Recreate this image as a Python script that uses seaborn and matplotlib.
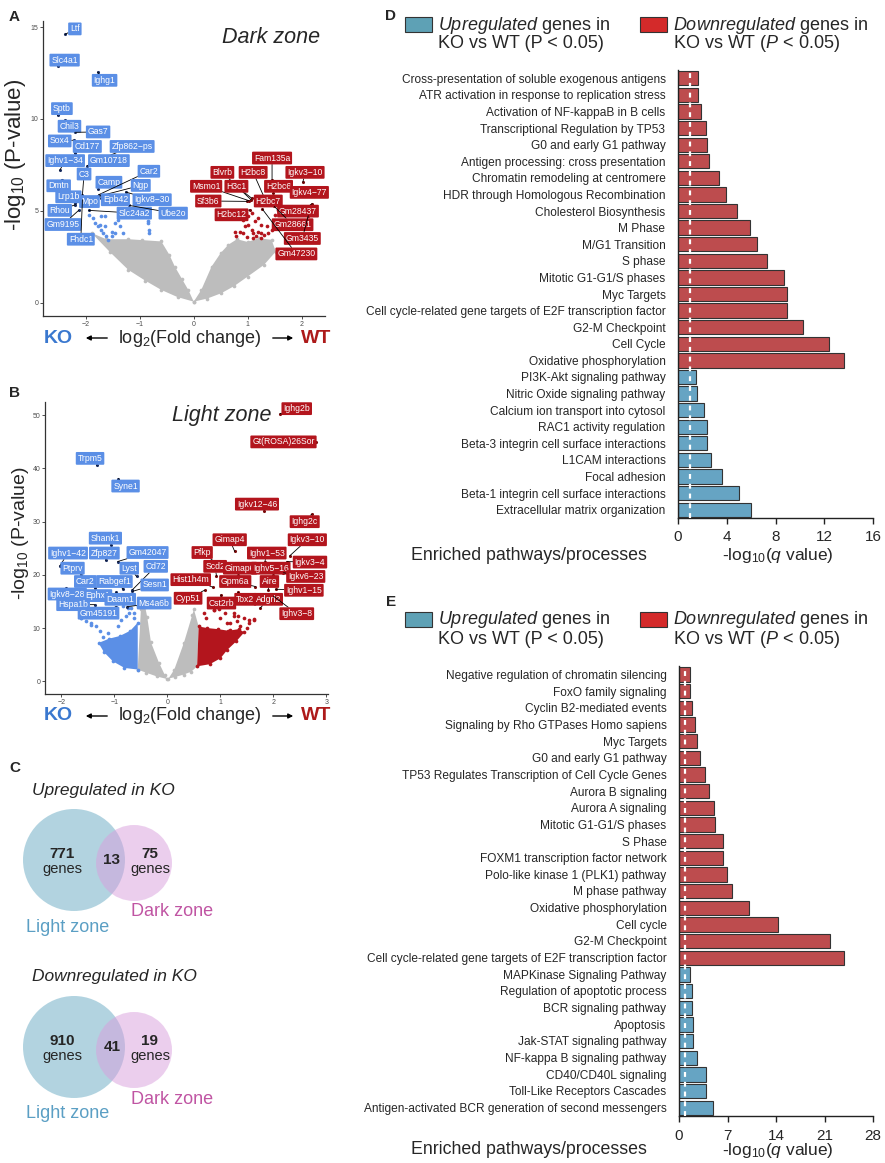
import numpy as np
import pandas as pd
import matplotlib
matplotlib.use("Agg")
import matplotlib.pyplot as plt
from matplotlib.patches import Circle, Rectangle, FancyArrowPatch
import seaborn as sns

# ---------------- panel A : dark zone volcano ----------------
a_genes = ["Ltf", "Slc4a1", "Ighg1", "Sptb", "Chil3", "Gas7", "Sox4", "Cd177", "Zfp862-ps", "Gm10718",
           "Ighv1-34", "C3", "Dmtn", "Camp", "Car2", "Ngp", "Lrp1b", "Mpo", "Epb42", "Igkv8-30",
           "Rhou", "Slc24a2", "Ube2o", "Gm9195", "Fhdc1",
           "Fam135a", "Blvrb", "H2bc8", "Igkv3-10", "Msmo1", "H3c1", "H2bc6", "Igkv4-77", "Sf3b6",
           "H2bc7", "Gm28437", "H2bc12", "Gm28661", "Gm3435", "Gm47230"]
a_fc = [-2.38, -2.52, -1.78, -2.52, -2.39, -2.20, -2.22, -2.20, -1.94, -1.97,
        -2.48, -2.06, -2.44, -1.77, -1.76, -1.77, -2.19, -2.00, -1.71, -1.26,
        -2.19, -1.94, -1.19, -2.13, -2.06,
        1.45, 1.06, 1.31, 2.02, 1.02, 1.07, 1.47, 2.23, 0.99,
        1.13, 2.19, 1.04, 1.49, 2.12, 1.27]
a_p = [14.6, 12.87, 12.55, 10.2, 9.93, 9.27, 8.84, 8.15, 7.56, 7.45,
       7.2, 5.87, 6.69, 6.18, 5.87, 5.78, 5.42, 5.3, 5.72, 6.02,
       5.33, 5.02, 5.29, 5.02, 5.6,
       6.69, 5.6, 5.69, 6.55, 5.55, 5.69, 5.96, 5.78, 5.51,
       5.6, 5.38, 5.05, 5.24, 4.73, 5.09]
a_lab_fc = [-2.20, -2.39, -1.65, -2.44, -2.30, -1.77, -2.48, -1.97, -1.14, -1.57,
            -2.38, -2.03, -2.50, -1.57, -0.83, -0.98, -2.32, -1.93, -1.45, -0.77,
            -2.48, -1.10, -0.38, -2.42, -2.09,
            1.45, 0.53, 1.10, 2.06, 0.23, 0.79, 1.57, 2.14, 0.27,
            1.38, 1.93, 0.70, 1.83, 2.01, 1.90]
a_lab_p = [14.9, 13.2, 12.1, 10.56, 9.6, 9.29, 8.8, 8.5, 8.5, 7.73,
           7.73, 7.0, 6.36, 6.55, 7.15, 6.38, 5.76, 5.5, 5.6, 5.6,
           5.02, 4.87, 4.87, 4.25, 3.45,
           7.87, 7.09, 7.09, 7.09, 6.33, 6.33, 6.33, 6.0, 5.53,
           5.53, 4.98, 4.78, 4.24, 3.49, 2.65]
a_blue_fc = [-1.93, -1.86, -1.83, -1.77, -1.71, -1.68, -1.62, -1.74, -1.65, -1.52, -1.46, -1.37,
             -1.31, -1.46, -1.40, -1.71, -1.65, -0.84, -0.83, -0.83, -1.52, -1.59, -1.37, -0.85]
a_blue_p = [4.78, 4.6, 4.33, 4.15, 3.97, 3.79, 3.6, 4.24, 4.15, 3.87, 3.79, 4.15,
            3.79, 4.33, 4.51, 4.73, 4.73, 4.36, 3.97, 3.79, 3.6, 3.42, 4.73, 4.42]
a_red_fc = [0.79, 0.85, 0.91, 0.94, 1.01, 1.07, 1.10, 1.13, 1.16, 1.19, 1.25, 1.31, 1.38, 1.44,
            1.50, 0.91, 1.01, 1.07, 1.19, 1.25, 1.35, 1.50, 1.56, 0.76, 0.98, 1.10, 1.25]
a_red_p = [3.6, 3.87, 3.79, 4.15, 4.24, 3.97, 3.79, 4.42, 3.6, 3.87, 3.79, 3.69, 3.79, 3.97,
           4.33, 4.51, 4.69, 4.88, 4.6, 4.24, 4.15, 4.78, 5.06, 3.87, 3.57, 3.51, 3.51]
# outline of the dense grey (non significant) cloud
a_gray_left_fc = [-1.89, -1.62, -1.21, -0.95, -0.60, -0.45, -0.35, -0.22, -0.10, 0.0, -0.30, -0.60, -0.90, -1.21, -1.55]
a_gray_left_p = [3.79, 3.45, 3.45, 3.40, 3.33, 2.6, 1.96, 1.3, 0.69, 0.05, 0.30, 0.69, 1.20, 1.78, 2.75]
a_gray_right_fc = [0.0, 0.14, 0.33, 0.50, 0.64, 0.80, 1.00, 1.20, 1.44, 1.52, 1.30, 1.00, 0.75, 0.51, 0.25]
a_gray_right_p = [0.05, 0.69, 1.96, 2.70, 3.15, 3.45, 3.30, 3.50, 3.42, 2.78, 2.05, 1.42, 0.90, 0.51, 0.22]

# ---------------- panel B : light zone volcano ----------------
b_genes = ["Trpm5", "Syne1", "Shank1", "Ighv1-42", "Zfp827", "Gm42047", "Ptprv", "Lyst", "Cd72", "Car2",
           "Rabgef1", "Sesn1", "Igkv8-28", "Ephx1", "Daam1", "Hspa1b", "Ms4a6b", "Gm45191",
           "Ighg2b", "Gt(ROSA)26Sor", "Igkv12-46", "Ighg2c", "Gimap4", "Igkv3-10", "Pfkp", "Ighv1-53",
           "Igkv3-4", "Scd2", "Gimap6", "Ighv5-16", "Igkv6-23", "Hist1h4m", "Gpm6a", "Aire", "Ighv1-15",
           "Cyp51", "Cst2rb", "Tox2", "Adgrl2", "Ighv3-8"]
b_fc = [-1.33, -0.925, -1.06, -2.03, -1.16, -0.94, -1.625, -0.58, -0.66, -1.36,
        -0.83, -0.66, -1.91, -1.25, -0.97, -1.375, -0.76, -0.97,
        2.125, 2.8, 1.825, 2.72, 1.27, 2.31, 0.94, 1.84,
        2.25, 0.925, 1.34, 2.0, 2.19, 0.856, 1.66, 1.9, 2.04,
        0.7, 1.01, 1.33, 1.75, 2.0]
b_p = [40.6, 38.1, 25.6, 21.7, 22.7, 22.5, 19.9, 19.7, 17.2, 17.5,
       17.3, 16.9, 17.6, 16.75, 16.75, 14.4, 14.0, 14.0,
       50.3, 45.0, 32.06, 31.4, 24.4, 23.6, 22.1, 22.5,
       22.5, 19.8, 20.0, 20.0, 20.4, 17.7, 17.8, 17.1, 17.3,
       17.1, 16.25, 16.75, 13.75, 16.0]
b_lab_fc = [-1.46, -0.79, -1.17, -1.875, -1.19, -0.375, -1.79, -0.72, -0.22, -1.55,
            -1.0, -0.24, -1.89, -1.31, -0.89, -1.78, -0.25, -1.3,
            2.44, 2.19, 1.69, 2.59, 1.175, 2.64, 0.656, 1.875,
            2.69, 0.90, 1.37, 1.95, 2.61, 0.44, 1.28, 1.925, 2.575,
            0.39, 1.02, 1.47, 1.906, 2.44]
b_lab_p = [41.9, 36.7, 26.9, 24.1, 24.1, 24.2, 21.25, 21.25, 21.6, 18.75,
           18.75, 18.1, 16.4, 16.1, 15.4, 14.4, 14.7, 12.8,
           51.25, 45.0, 33.3, 30.0, 26.6, 26.6, 24.2, 24.1,
           22.4, 21.6, 21.25, 21.25, 19.7, 19.1, 18.75, 18.75, 17.1,
           15.6, 14.7, 15.4, 15.4, 12.7]
b_blue_fc = [-1.63, -1.44, -1.34, -1.28, -1.13, -0.94, -0.88, -0.78, -0.72, -0.63, -1.06,
             -1.22, -0.75, -0.56, -0.84, -1.44, -1.53, -1.44, -0.625, -0.69, -1.625]
b_blue_p = [11.9, 10.95, 10.3, 9.4, 9.1, 10.3, 11.6, 12.2, 12.8, 11.9, 7.8,
            8.4, 13.8, 14.1, 14.1, 12.5, 11.3, 10.6, 12.8, 13.75, 11.9]
b_red_fc = [0.69, 0.875, 1.0, 1.125, 1.31, 1.44, 1.53, 1.63, 1.375, 1.19, 1.0, 0.81,
            0.72, 1.09, 1.25, 1.5, 1.53, 1.625, 1.33, 0.875, 0.97, 1.25, 1.19]
b_red_p = [12.8, 13.45, 11.9, 10.95, 11.25, 11.9, 10.95, 11.6, 10.3, 9.7, 9.1, 8.4,
           11.9, 12.8, 12.2, 10.0, 11.6, 11.7, 12.2, 13.4, 13.6, 12.8, 10.9]
b_gray_left_fc = [-0.56, -0.50, -0.42, -0.38, -0.31, -0.16, -0.05, 0.0, -0.20, -0.40]
b_gray_left_p = [2.2, 13.6, 14.0, 12.0, 7.3, 3.5, 1.2, 0.4, 0.9, 1.6]
b_gray_right_fc = [0.02, 0.13, 0.31, 0.47, 0.50, 0.59, 0.56, 0.45, 0.31, 0.15]
b_gray_right_p = [0.5, 2.2, 7.2, 12.5, 13.5, 10.3, 2.8, 1.8, 1.26, 0.8]
b_blue_dense_fc = [-1.30, -1.20, -1.03, -0.81, -0.56, -0.56, -0.70, -0.90, -1.10]
b_blue_dense_p = [7.2, 5.5, 3.75, 2.5, 2.2, 11.0, 9.5, 8.5, 8.0]
b_red_dense_fc = [0.56, 0.80, 1.00, 1.13, 1.30, 1.45, 1.35, 1.15, 0.95, 0.75, 0.59]
b_red_dense_p = [2.8, 3.2, 4.3, 5.9, 7.5, 9.2, 9.8, 9.5, 9.8, 10.0, 10.3]

# ---------------- panel C : venn counts (light only, shared, dark only) ----------------
up_counts = [771, 13, 75]
down_counts = [910, 41, 19]

# ---------------- panel D / E : enriched pathways ----------------
d_pathways = ["Cross-presentation of soluble exogenous antigens", "ATR activation in response to replication stress",
              "Activation of NF-kappaB in B cells", "Transcriptional Regulation by TP53", "G0 and early G1 pathway",
              "Antigen processing: cross presentation", "Chromatin remodeling at centromere",
              "HDR through Homologous Recombination", "Cholesterol Biosynthesis", "M Phase", "M/G1 Transition",
              "S phase", "Mitotic G1-G1/S phases", "Myc Targets",
              "Cell cycle-related gene targets of E2F transcription factor", "G2-M Checkpoint", "Cell Cycle",
              "Oxidative phosphorylation", "PI3K-Akt signaling pathway", "Nitric Oxide signaling pathway",
              "Calcium ion transport into cytosol", "RAC1 activity regulation",
              "Beta-3 integrin cell surface interactions", "L1CAM interactions", "Focal adhesion",
              "Beta-1 integrin cell surface interactions", "Extracellular matrix organization"]
d_q = [1.61, 1.66, 1.91, 2.26, 2.37, 2.53, 3.38, 3.95, 4.80, 5.91, 6.46, 7.30, 8.69, 8.91,
       8.91, 10.27, 12.43, 13.60, 1.44, 1.53, 2.13, 2.34, 2.40, 2.70, 3.57, 5.01, 5.99]
d_group = ["Downregulated"] * 18 + ["Upregulated"] * 9
d_cutoff = 0.95

e_pathways = ["Negative regulation of chromatin silencing", "FoxO family signaling", "Cyclin B2-mediated events",
              "Signaling by Rho GTPases Homo sapiens", "Myc Targets", "G0 and early G1 pathway",
              "TP53 Regulates Transcription of Cell Cycle Genes", "Aurora B signaling", "Aurora A signaling",
              "Mitotic G1-G1/S phases", "S Phase", "FOXM1 transcription factor network",
              "Polo-like kinase 1 (PLK1) pathway", "M phase pathway", "Oxidative phosphorylation", "Cell cycle",
              "G2-M Checkpoint", "Cell cycle-related gene targets of E2F transcription factor",
              "MAPKinase Signaling Pathway", "Regulation of apoptotic process", "BCR signaling pathway",
              "Apoptosis", "Jak-STAT signaling pathway", "NF-kappa B signaling pathway", "CD40/CD40L signaling",
              "Toll-Like Receptors Cascades", "Antigen-activated BCR generation of second messengers"]
e_q = [1.54, 1.54, 1.88, 2.26, 2.55, 3.08, 3.70, 4.38, 5.05, 5.19, 6.30, 6.35, 6.93, 7.65,
       10.05, 14.33, 21.84, 23.86, 1.64, 1.88, 1.92, 2.02, 2.02, 2.65, 3.85, 3.94, 4.91]
e_group = ["Downregulated"] * 18 + ["Upregulated"] * 9
e_cutoff = 0.8

# ---------------- style ----------------
sns.set_theme(style="white")
plt.rcParams["font.family"] = ["Liberation Sans", "DejaVu Sans"]
plt.rcParams["mathtext.fontset"] = "custom"
plt.rcParams["mathtext.rm"] = "Liberation Sans"
plt.rcParams["mathtext.it"] = "Liberation Sans:italic"
plt.rcParams["mathtext.bf"] = "Liberation Sans:bold"

GRAY = "#bdbdbd"
VBLUE = "#5b8fe6"
VRED = "#b3151d"
BAR_RED = "#d0393c"
BAR_BLUE = "#56a9d3"
LEG_BLUE = "#5ea1b5"
LEG_RED = "#d42a2a"

W, H = 885, 1163
fig = plt.figure(figsize=(W / 100, H / 100), dpi=100)


def rect(l, t, r, b):
    return [l / W, 1 - b / H, (r - l) / W, (b - t) / H]


def fxy(x, y):
    return x / W, 1 - y / H


def volcano(ax, gray, dense, blue_pts, red_pts, genes, gx, gy, lx, ly, ylab_size):
    for xs, ys in gray:
        ax.fill(xs, ys, color=GRAY, lw=0, zorder=1)
        sns.scatterplot(x=xs, y=ys, color=GRAY, s=7, linewidth=0, ax=ax, zorder=1)
    for (xs, ys), c in dense:
        ax.fill(xs, ys, color=c, lw=0, zorder=2)
        sns.scatterplot(x=xs, y=ys, color=c, s=7, linewidth=0, ax=ax, zorder=2)
    sns.scatterplot(x=blue_pts[0], y=blue_pts[1], color=VBLUE, s=7, linewidth=0, ax=ax, zorder=3)
    sns.scatterplot(x=red_pts[0], y=red_pts[1], color=VRED, s=7, linewidth=0, ax=ax, zorder=3)
    for g, x, y, tx, ty in zip(genes, gx, gy, lx, ly):
        up = x < 0
        ax.scatter([x], [y], s=5, color="#1b2f63" if up else "#7a0a0a", zorder=4, linewidth=0)
        ax.annotate(g.replace("-", "\u2212"), xy=(x, y), xytext=(tx, ty), textcoords="data",
                    ha="center", va="center", fontsize=6.2, color="white", zorder=5,
                    bbox=dict(boxstyle="round,pad=0.22,rounding_size=0.12", fc=VBLUE if up else VRED, ec="none"),
                    arrowprops=dict(arrowstyle="-", color="black", lw=0.6, shrinkA=0, shrinkB=0))
    sns.despine(ax=ax)
    for s in ["left", "bottom"]:
        ax.spines[s].set_color("#333333")
        ax.spines[s].set_linewidth(0.9)
    ax.tick_params(axis="both", labelsize=5, labelcolor="#4d4d4d", length=2, width=0.6,
                   color="#333333", bottom=True, left=True, pad=1.5)
    ax.set_xlabel("")
    ax.set_ylabel(r"-log$_{10}$ (P-value)", fontsize=ylab_size)


def volcano_xlabel(y):
    fig.text(*fxy(58, y), "KO", color="#3a78cf", fontsize=14, fontweight="bold", ha="center", va="center")
    fig.text(*fxy(190, y), r"log$_2$(Fold change)", fontsize=13, ha="center", va="center")
    fig.text(*fxy(316, y), "WT", color="#ad1a1a", fontsize=14, fontweight="bold", ha="center", va="center")
    for a, b in [((110, y), (83, y)), ((270, y), (296, y))]:
        fig.add_artist(FancyArrowPatch(fxy(*a), fxy(*b), transform=fig.transFigure, arrowstyle="-|>",
                                       mutation_scale=7, lw=1.0, color="black"))


# ---- A ----
axA = fig.add_axes(rect(43, 21, 325, 316))
volcano(axA,
        [(a_gray_left_fc, a_gray_left_p), (a_gray_right_fc, a_gray_right_p)], [],
        (a_blue_fc, a_blue_p), (a_red_fc, a_red_p),
        a_genes, a_fc, a_p, a_lab_fc, a_lab_p, 16)
axA.set_xlim(-2.79, 2.43)
axA.set_ylim(-0.73, 15.33)
axA.set_xticks([-2, -1, 0, 1, 2])
axA.set_yticks([0, 5, 10, 15])
axA.yaxis.set_label_coords(-0.052, 0.546)
axA.text(0.982, 0.945, "Dark zone", transform=axA.transAxes, ha="right", va="center",
         fontsize=15.5, style="italic")
volcano_xlabel(338)

# ---- B ----
axB = fig.add_axes(rect(45, 402, 328, 694))
volcano(axB,
        [(b_gray_left_fc, b_gray_left_p), (b_gray_right_fc, b_gray_right_p)],
        [((b_blue_dense_fc, b_blue_dense_p), VBLUE), ((b_red_dense_fc, b_red_dense_p), VRED)],
        (b_blue_fc, b_blue_p), (b_red_fc, b_red_p),
        b_genes, b_fc, b_p, b_lab_fc, b_lab_p, 14)
axB.set_xlim(-2.31, 3.03)
axB.set_ylim(-2.4, 52.5)
axB.set_xticks([-2, -1, 0, 1, 2, 3])
axB.set_yticks([0, 10, 20, 30, 40, 50])
axB.yaxis.set_label_coords(-0.05, 0.551)
axB.text(0.80, 0.955, "Light zone", transform=axB.transAxes, ha="right", va="center",
         fontsize=15.5, style="italic")
volcano_xlabel(716)

# ---- C : venn diagrams drawn in pixel coordinates ----
axC = fig.add_axes(rect(0, 760, 330, 1163))
axC.set_xlim(0, 330)
axC.set_ylim(1163, 760)
axC.axis("off")


def venn(ax, counts, title, top):
    ax.text(32, top, title, fontsize=12.5, style="italic", ha="left", va="center")
    cy = top + 70
    ax.add_patch(Circle((74, cy), 51, fc="#7fb7cc", alpha=0.6, lw=0))
    ax.add_patch(Circle((134, cy + 3), 38, fc="#d99fdd", alpha=0.5, lw=0))
    for x, n in zip([62, 112, 150], counts):
        if x == 112:
            ax.text(x, cy, str(n), fontsize=11, fontweight="bold", ha="center", va="center")
        else:
            ax.text(x, cy - 6, str(n), fontsize=11, fontweight="bold", ha="center", va="center")
            ax.text(x, cy + 9, "genes", fontsize=10.5, ha="center", va="center")
    ax.text(172, cy + 52, "Dark zone", fontsize=13, color="#c055a3", ha="center", va="center")
    ax.text(68, cy + 67, "Light zone", fontsize=13, color="#5b9fc4", ha="center", va="center")


venn(axC, up_counts, "Upregulated in KO", 790)
venn(axC, down_counts, "Downregulated in KO", 977)


# ---- D / E : pathway bars ----
def pathway_bars(box, pathways, q, group, cutoff, xmax, xticks, leg_top, lab_y):
    ax = fig.add_axes(rect(*box))
    df = pd.DataFrame({"pathway": pathways, "q": q, "group": group})
    sns.barplot(data=df, x="q", y="pathway", hue="group", dodge=False, orient="h", width=0.86,
                palette={"Downregulated": BAR_RED, "Upregulated": BAR_BLUE},
                edgecolor="#333333", linewidth=0.8, legend=False, ax=ax)
    ax.axvline(cutoff, color="white", lw=1.6, ls=(0, (2.2, 2.2)), zorder=5)
    ax.set_xlim(0, xmax)
    ax.set_xticks(xticks)
    ax.set_xlabel("")
    ax.set_ylabel("")
    sns.despine(ax=ax)
    for s in ["left", "bottom"]:
        ax.spines[s].set_color("#222222")
        ax.spines[s].set_linewidth(1.0)
    ax.tick_params(axis="x", labelsize=11, bottom=True, length=4, width=1, color="#222222", pad=5)
    ax.tick_params(axis="y", labelsize=8.6, length=0, pad=9)
    # legend drawn by hand so the box sits on the first text line
    for x0, c, l1, l2 in [(405, LEG_BLUE, r"$\mathit{Upregulated}$ genes in", "KO vs WT (P < 0.05)"),
                          (640, LEG_RED, r"$\mathit{Downregulated}$ genes in",
                           r"KO vs WT ($\mathit{P}$ < 0.05)")]:
        fig.add_artist(Rectangle(fxy(x0, leg_top + 15), 27 / W, 15 / H, transform=fig.transFigure,
                                 fc=c, ec="#333333", lw=0.8))
        fig.text(*fxy(x0 + 33, leg_top + 8), l1, fontsize=13, ha="left", va="center")
        fig.text(*fxy(x0 + 33, leg_top + 27), l2, fontsize=13, ha="left", va="center")
    fig.text(*fxy(411, lab_y), "Enriched pathways/processes", fontsize=12.8, ha="left", va="center")
    fig.text(*fxy(778, lab_y), r"-log$_{10}$($\mathit{q}$ value)", fontsize=12.5, ha="center", va="center")
    return ax


pathway_bars((678, 70, 873, 518), d_pathways, d_q, d_group, d_cutoff, 16, [0, 4, 8, 12, 16], 17, 556)
pathway_bars((679, 666, 873, 1116), e_pathways, e_q, e_group, e_cutoff, 28, [0, 7, 14, 21, 28], 612, 1150)

# panel letters
for letter, x, y in [("A", 14, 17), ("B", 14, 393), ("C", 15, 768), ("D", 391, 16), ("E", 391, 602)]:
    fig.text(*fxy(x, y), letter, fontsize=11, fontweight="bold", ha="center", va="center")

fig.savefig("out.png", dpi=100)
